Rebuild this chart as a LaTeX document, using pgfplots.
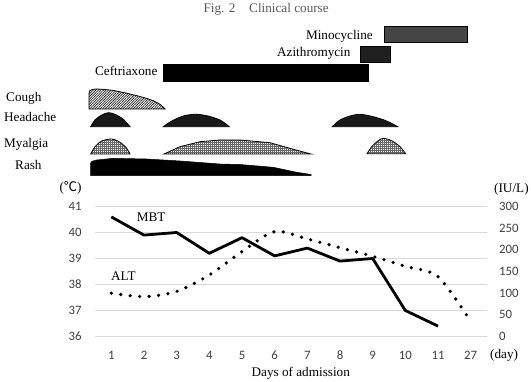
\documentclass[border=0pt]{standalone}
\usepackage{pgfplots}
\pgfplotsset{compat=1.18}
\usetikzlibrary{patterns.meta}
\usepackage{fontspec}
\setmainfont{Liberation Serif}
\newfontfamily\carlito{Carlito}
\newfontfamily\cjk{Noto Sans CJK JP}
\definecolor{ticktext}{HTML}{404040}
\definecolor{gridc}{HTML}{D9D9D9}
\definecolor{titlec}{HTML}{5A5A5A}
\definecolor{minoc}{HTML}{454545}
\begin{document}
\begin{tikzpicture}[lbl/.style={inner sep=0pt, font=\fontsize{13.2}{15}\selectfont}]
\useasboundingbox (0pt,0pt) rectangle (531pt,382pt);
% ---------- upper panel (pixel coordinates) ----------
\begin{axis}[at={(0pt,0pt)}, anchor=south west, scale only axis,
  width=531pt, height=382pt, xmin=0, xmax=531, ymin=0, ymax=382,
  y dir=reverse, hide axis, clip=false]
% drug bars
\addplot[draw=black, line width=0.8pt, fill=minoc] coordinates {(384,26) (467,26) (467,42.5) (384,42.5)} -- cycle;
\addplot[draw=black, line width=0.8pt, fill=black!88] coordinates {(360,46) (390,46) (390,62.5) (360,62.5)} -- cycle;
\addplot[draw=black, line width=0.8pt, fill=black] coordinates {(163.7,64) (368,64) (368,81) (163.7,81)} -- cycle;
% cough
\addplot[draw=black, line width=0.8pt, pattern={Lines[angle=45,distance=1.8pt,line width=0.75pt]}, pattern color=black!85]
 coordinates {(89,109) (89,93) (90,90.5) (93,89.3) (97,89) (105,89.5) (113,90.4) (125,92.8) (137,95.7) (147,98.5) (154,101) (160,104.3) (163,107) (165,109)} -- cycle;
% headache
\addplot[draw=black, line width=0.8pt, fill=black!90, smooth] coordinates {(90.7,126.7) (95,120) (101.7,115) (108.3,112.7) (115,114.3) (123.3,119.3) (130,126.7)} -- cycle;
\addplot[draw=black, line width=0.8pt, fill=black!90, smooth] coordinates {(163.3,126.7) (171.7,121) (183.3,116) (195,114.3) (206.7,115.7) (220,120) (229.3,126.7)} -- cycle;
\addplot[draw=black, line width=0.8pt, fill=black!90, smooth] coordinates {(332.3,126.7) (340,120) (350,116) (360,114.3) (373.3,116.7) (386.7,121) (397.7,126.7)} -- cycle;
% myalgia
\addplot[draw=black, line width=0.8pt, pattern={Hatch[angle=0,distance=2pt,line width=0.45pt]}, pattern color=black!60, smooth]
 coordinates {(90.7,154) (95,146.7) (101.7,141) (111.7,139) (120,142.3) (126.7,148.3) (130,154)} -- cycle;
\addplot[draw=black, line width=0.8pt, pattern={Hatch[angle=0,distance=2pt,line width=0.45pt]}, pattern color=black!60]
 coordinates {(164,154) (180,146.7) (200,141.7) (220,140) (240,140) (270,142.7) (293.3,149.3) (311,154)} -- cycle;
\addplot[draw=black, line width=0.8pt, pattern={Hatch[angle=0,distance=2pt,line width=0.45pt]}, pattern color=black!60, smooth]
 coordinates {(367,153.7) (371.7,146.7) (378.3,140.7) (383.3,138.3) (391.7,140.7) (400,146.7) (405.7,153.7)} -- cycle;
% rash
\addplot[draw=black, line width=0.5pt, fill=black]
 coordinates {(90.7,175.7) (90.7,163) (92,161.3) (96.7,160) (113.3,158.3) (146.7,159) (180,161) (220,164) (240,164.5) (273.3,167.3) (296.7,172.3) (311,174.5) (311,175.7)} -- cycle;
% texts
\node[lbl, text=titlec, anchor=base west] at (axis cs:203.4,12.7) {Fig. 2};
\node[lbl, text=titlec, anchor=base west] at (axis cs:249,12.7) {Clinical course};
\node[lbl, anchor=base east] at (axis cs:373,39.5) {Minocycline};
\node[lbl, anchor=base east] at (axis cs:350.7,56.8) {Azithromycin};
\node[lbl, anchor=base east] at (axis cs:157.6,75.5) {Ceftriaxone};
\node[lbl, anchor=base west] at (axis cs:6,101.7) {Cough};
\node[lbl, anchor=base west] at (axis cs:4,121.7) {Headache};
\node[lbl, anchor=base west] at (axis cs:4,148) {Myalgia};
\node[lbl, anchor=base west] at (axis cs:15,170) {Rash};
\node[lbl, anchor=base west] at (axis cs:136.7,221.7) {MBT};
\node[lbl, anchor=base west] at (axis cs:111,280.4) {ALT};
\node[lbl, anchor=base west] at (axis cs:490,358.5) {(day)};
\node[lbl, anchor=base west] at (axis cs:494,192.5) {(IU/L)};
\node[lbl, anchor=center] at (axis cs:70.5,187.7) {(\cjk ℃\rmfamily)};
\node[lbl, anchor=base] at (axis cs:300.8,376.7) {Days of admission};
\end{axis}
% ---------- lower panel: MBT (left axis) ----------
\begin{axis}[at={(95pt,45.5pt)}, anchor=south west, scale only axis,
  width=392pt, height=130pt,
  xmin=0.5, xmax=12.5, ymin=36, ymax=41,
  xtick={1,...,12}, xticklabels={1,2,3,4,5,6,7,8,9,10,11,27},
  ytick={36,37,38,39,40,41},
  axis line style={draw=none}, major tick length=0pt,
  ymajorgrids, grid style={color=gridc, line width=0.8pt},
  /pgf/number format/assume math mode=true,
  tick label style={font=\carlito\fontsize{12.8}{14}\selectfont, text=ticktext, inner sep=0pt},
  xticklabel style={anchor=north, yshift=-14.5pt},
  yticklabel style={anchor=east, xshift=-13.3pt},
  clip=false]
\addplot[black, line width=2.8pt, line join=round] coordinates {
 (1,40.6) (2,39.9) (3,40.0) (4,39.2) (5,39.8) (6,39.1) (7,39.4) (8,38.9) (9,39.0) (10,37.0) (11,36.4)};
\end{axis}
% ---------- lower panel: ALT (right axis) ----------
\begin{axis}[at={(95pt,45.5pt)}, anchor=south west, scale only axis,
  width=392pt, height=130pt,
  xmin=0.5, xmax=12.5, ymin=0, ymax=300,
  axis x line=none, axis y line*=right,
  xtick=\empty, ytick={0,50,100,150,200,250,300},
  axis line style={draw=none}, major tick length=0pt,
  /pgf/number format/assume math mode=true,
  tick label style={font=\carlito\fontsize{12.8}{14}\selectfont, text=ticktext, inner sep=0pt},
  yticklabel style={anchor=west, xshift=12pt},
  clip=false]
\addplot[black, line width=3.6pt, line cap=round, dash pattern=on 0pt off 9.5pt, smooth] coordinates {
 (1,100) (2,92) (3,104) (4,142) (5,196) (6,242) (7,225) (8,205) (9,185) (10,162) (11,138) (12,35)};
\end{axis}
\end{tikzpicture}
\end{document}
